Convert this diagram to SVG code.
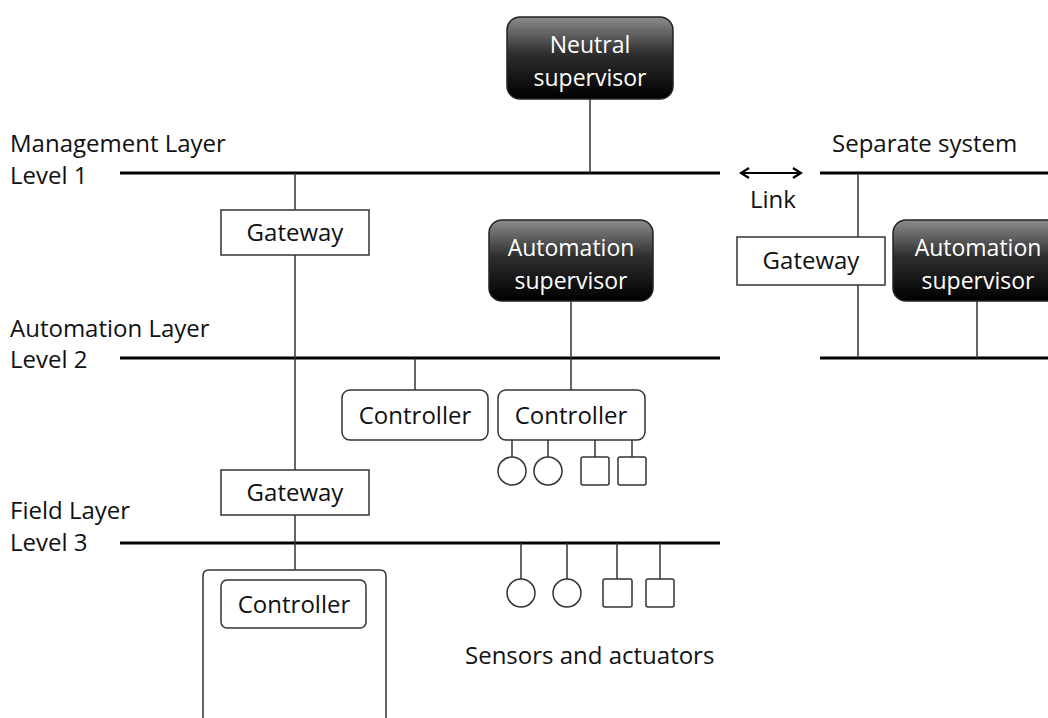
<svg xmlns="http://www.w3.org/2000/svg" width="1048" height="718" viewBox="0 0 1048 718">
<defs>
<linearGradient id="dark" x1="0" y1="0" x2="0" y2="1">
<stop offset="0" stop-color="#8c8c8c"/>
<stop offset="0.45" stop-color="#2e2e2e"/>
<stop offset="1" stop-color="#000"/>
</linearGradient>
<marker id="chev" viewBox="0 0 12 12" refX="9" refY="6" markerWidth="12" markerHeight="12" markerUnits="userSpaceOnUse" orient="auto-start-reverse">
<polyline points="2,1 10,6 2,11" fill="none" stroke="#000" stroke-width="2.2"/>
</marker>
</defs>
<style>
text{font-family:"Open Sans",Lato,"Liberation Sans",sans-serif;font-size:24px;fill:#111}
.w{fill:#fff;font-size:23px}
.c{text-anchor:middle}
.bus{stroke:#000;stroke-width:3;fill:none}
.ln{stroke:#333;stroke-width:1.5;fill:none}
.box{fill:#fff;stroke:#333;stroke-width:1.5}
.sup{fill:url(#dark);stroke:#222;stroke-width:1.5}
</style>
<rect width="1048" height="718" fill="#fff"/>
<g id="labels">
<text x="10" y="152">Management Layer</text>
<text x="10" y="184">Level 1</text>
<text x="10" y="337">Automation Layer</text>
<text x="10" y="368">Level 2</text>
<text x="10" y="519">Field Layer</text>
<text x="10" y="551">Level 3</text>
<text x="832" y="152">Separate system</text>
<text x="750" y="208">Link</text>
<text x="465" y="664">Sensors and actuators</text>
</g>
<g id="connectors">
<line class="bus" x1="120" y1="173" x2="720" y2="173"/>
<line class="bus" x1="820" y1="173" x2="1048" y2="173"/>
<line class="bus" x1="120" y1="358" x2="720" y2="358"/>
<line class="bus" x1="820" y1="358" x2="1048" y2="358"/>
<line class="bus" x1="120" y1="543" x2="720" y2="543"/>
<line x1="742" y1="173" x2="800" y2="173" stroke="#000" stroke-width="2" marker-start="url(#chev)" marker-end="url(#chev)"/>
<line class="ln" x1="590" y1="99" x2="590" y2="173"/>
<line class="ln" x1="295" y1="173" x2="295" y2="570"/>
<line class="ln" x1="571" y1="301" x2="571" y2="390"/>
<line class="ln" x1="415" y1="358" x2="415" y2="390"/>
<line class="ln" x1="512" y1="440" x2="512" y2="457"/>
<line class="ln" x1="548" y1="440" x2="548" y2="457"/>
<line class="ln" x1="595" y1="440" x2="595" y2="457"/>
<line class="ln" x1="632" y1="440" x2="632" y2="457"/>
<line class="ln" x1="521" y1="543" x2="521" y2="579"/>
<line class="ln" x1="567" y1="543" x2="567" y2="579"/>
<line class="ln" x1="617" y1="543" x2="617" y2="579"/>
<line class="ln" x1="660" y1="543" x2="660" y2="579"/>
<line class="ln" x1="858" y1="173" x2="858" y2="358"/>
<line class="ln" x1="977" y1="301" x2="977" y2="358"/>
</g>
<g id="neutral-supervisor">
<rect class="sup" x="507" y="17" width="166" height="82" rx="13"/>
<text class="w c" x="590" y="53">Neutral</text>
<text class="w c" x="590" y="86">supervisor</text>
</g>
<g id="gateway-1">
<rect class="box" x="221" y="210" width="148" height="45"/>
<text class="c" x="295" y="241">Gateway</text>
</g>
<g id="automation-supervisor">
<rect class="sup" x="489" y="220" width="164" height="81" rx="13"/>
<text class="w c" x="571" y="256">Automation</text>
<text class="w c" x="571" y="289">supervisor</text>
</g>
<g id="controller-1">
<rect class="box" x="342" y="390" width="146" height="50" rx="8"/>
<text class="c" x="415" y="424">Controller</text>
</g>
<g id="controller-2">
<rect class="box" x="498" y="390" width="147" height="50" rx="8"/>
<text class="c" x="571" y="424">Controller</text>
</g>
<g id="devices-l2">
<circle class="box" cx="512" cy="471" r="14"/>
<circle class="box" cx="548" cy="471" r="14"/>
<rect class="box" x="581" y="457" width="28" height="28" rx="2"/>
<rect class="box" x="618" y="457" width="28" height="28" rx="2"/>
</g>
<g id="gateway-2">
<rect class="box" x="221" y="470" width="148" height="45"/>
<text class="c" x="295" y="501">Gateway</text>
</g>
<g id="field-device">
<path class="box" d="M203,718 V576 Q203,570 209,570 H380 Q386,570 386,576 V718"/>
</g>
<g id="controller-3">
<rect class="box" x="221" y="580" width="145" height="48" rx="6"/>
<text class="c" x="294" y="613">Controller</text>
</g>
<g id="devices-l3">
<circle class="box" cx="521" cy="593" r="14"/>
<circle class="box" cx="567" cy="593" r="14"/>
<rect class="box" x="603" y="579" width="29" height="28" rx="2"/>
<rect class="box" x="646" y="579" width="28" height="28" rx="2"/>
</g>
<g id="gateway-right">
<rect class="box" x="737" y="237" width="148" height="48"/>
<text class="c" x="811" y="269">Gateway</text>
</g>
<g id="automation-supervisor-right">
<rect class="sup" x="893" y="220" width="170" height="81" rx="13"/>
<text class="w c" x="978" y="256">Automation</text>
<text class="w c" x="978" y="289">supervisor</text>
</g>
</svg>
